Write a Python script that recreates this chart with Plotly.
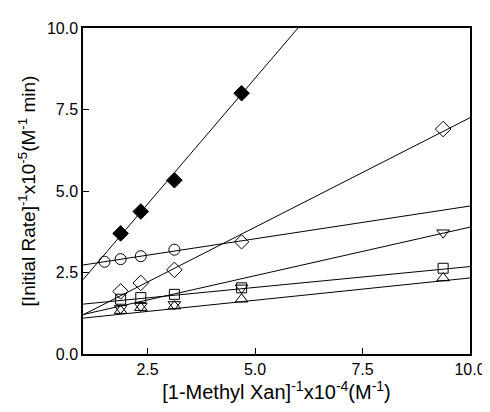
import numpy as np
import plotly.graph_objects as go

# Data
x_filled_diamond = [1.875, 2.344, 3.125, 4.688]
y_filled_diamond = [3.70, 4.37, 5.33, 8.00]

x_circle = [1.5, 1.875, 2.344, 3.125, 4.688]
y_circle = [2.83, 2.91, 3.00, 3.20, 3.44]
sym_circle = ["circle-open", "circle-open", "circle-open", "circle-open", "diamond-open"]

x_open_diamond = [1.875, 2.344, 3.125, 9.375]
y_open_diamond = [1.92, 2.18, 2.58, 6.90]

x_inv_triangle = [1.875, 2.344, 3.125, 4.688, 9.375]
y_inv_triangle = [1.40, 1.47, 1.52, 2.03, 3.72]

x_square = [1.875, 2.344, 3.125, 4.688, 9.375]
y_square = [1.68, 1.73, 1.83, 2.03, 2.63]

x_triangle = [1.875, 2.344, 3.125, 4.688, 9.375]
y_triangle = [1.33, 1.42, 1.47, 1.68, 2.33]

# Fitted lines (intercept at x=0, slope)
fit_filled_diamond = (0.736, 1.544)
fit_circle = (2.529, 0.201)
fit_open_diamond = (0.528, 0.672)
fit_inv_triangle = (0.912, 0.298)
fit_square = (1.402, 0.128)
fit_triangle = (0.963, 0.137)

x_ticks = [2.5, 5.0, 7.5, 10.0]
y_ticks = [0.0, 2.5, 5.0, 7.5, 10.0]

fig = go.Figure()
line_x = np.array([1.0, 10.0])
for (b, m) in [fit_filled_diamond, fit_circle, fit_open_diamond,
               fit_inv_triangle, fit_square, fit_triangle]:
    fig.add_trace(go.Scatter(x=line_x, y=b + m * line_x, mode="lines",
                             line=dict(color="black", width=1),
                             showlegend=False, hoverinfo="skip"))

series = [
    (x_filled_diamond, y_filled_diamond, "diamond", 12),
    (x_circle, y_circle, sym_circle, 11),
    (x_open_diamond, y_open_diamond, "diamond-open", 12),
    (x_square, y_square, "square-open", 10),
    (x_inv_triangle, y_inv_triangle, "triangle-down-open", 11),
    (x_triangle, y_triangle, "triangle-up-open", 11),
]
for xs, ys, sym, sz in series:
    fig.add_trace(go.Scatter(
        x=xs, y=ys, mode="markers",
        marker=dict(symbol=sym, size=sz, color="black",
                    line=dict(color="black", width=1)),
        showlegend=False, cliponaxis=False))

font = dict(family="Liberation Sans, Arial, sans-serif", size=16, color="black")
fig.update_layout(
    width=490, height=412,
    margin=dict(l=75, r=28, t=14, b=66),
    paper_bgcolor="white", plot_bgcolor="white",
    font=font,
    xaxis=dict(range=[1, 10], tickvals=x_ticks, ticktext=[f"{v:.1f}" for v in x_ticks],
               ticks="inside", ticklen=6, tickcolor="black",
               showline=True, linecolor="black", linewidth=1.5, mirror=True,
               showgrid=False, zeroline=False,
               title=dict(text="[1-Methyl Xan]<sup>-1</sup>x10<sup>-4</sup>(M<sup>-1</sup>)",
                          font=dict(size=20), standoff=3)),
    yaxis=dict(range=[0, 10], tickvals=y_ticks, ticktext=[f"{v:.1f}" for v in y_ticks],
               ticks="inside", ticklen=6, tickcolor="black",
               showline=True, linecolor="black", linewidth=1.5, mirror=True,
               showgrid=False, zeroline=False,
               title=dict(text="[Initial Rate]<sup>-1</sup>x10<sup>-5</sup>(M<sup>-1</sup> min)",
                          font=dict(size=19), standoff=6)),
)
fig.write_html("out.html")
